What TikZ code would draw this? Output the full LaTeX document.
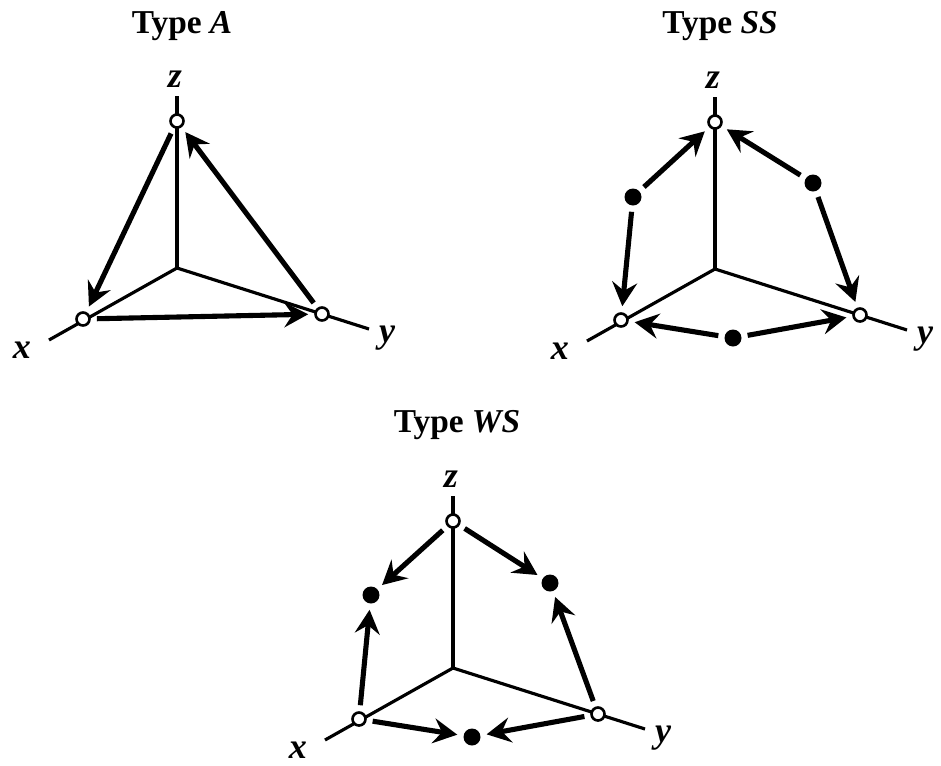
\documentclass[tikz,border=0pt]{standalone}
\usepackage{fontspec}
\setmainfont{Liberation Serif}
\usetikzlibrary{arrows.meta}

\tikzset{
	axis/.style={line width=1.8pt},
	hollow/.style={circle, draw, fill=white, line width=1.5pt, inner sep=0pt, minimum size=0.26cm},
	filled/.style={circle, fill=black, inner sep=0pt, minimum size=0.34cm},
	flow/.style={line width=2.9pt, -{Stealth[length=0.48cm,width=0.5cm,inset=0.17cm]},
		shorten >=0.12cm, shorten <=0.12cm},
	lab/.style={anchor=base, font=\fontsize{20.5}{24}\selectfont\bfseries\itshape},
	ttl/.style={anchor=base, font=\fontsize{19}{22}\selectfont\bfseries}
}

\begin{document}
\begin{tikzpicture}[x=0.02cm, y=-0.02cm]
	\useasboundingbox (0,0) rectangle (941,765);
	
	% axes, the same for all three
	\foreach \p/\ox/\oy in {a/177/268, s/715/269, w/453/668}{
		\begin{scope}[shift={(\ox,\oy)}]
			\coordinate (\p-o) at (0,0);
			\coordinate (\p-xe) at (-128,72);
			\coordinate (\p-ye) at (192,61);
			\coordinate (\p-ze) at (0,-172);
			
			\draw[axis] (\p-xe) -- (\p-o) -- (\p-ye);
			\draw[axis] (\p-o) -- (\p-ze);
			
			\node[hollow] (\p-x) at (-94,51) {};
			\node[hollow] (\p-y) at (145,46) {};
			\node[hollow] (\p-z) at (0,-147) {};
			
			\node[lab] (\p-xl) at (-155,90) {x};
			\node[lab] (\p-yl) at (210,74) {y};
			\node[lab] (\p-zl) at (-2,-181) {z};
		\end{scope}
	}
	
	\node[ttl] (ta) at (182,33) {Type \textit{A}};
	\node[ttl] (ts) at (720,33) {Type \textit{SS}};
	\node[ttl] (tw) at (457,432) {Type \textit{WS}};
	
	% type A
	\draw[flow] (a-z) -- (a-x);
	\draw[flow] (a-y) -- (a-z);
	\draw[flow] (a-x) -- (a-y);
	
	% type SS
	\node[filled] (s-l) at (633,197) {};
	\node[filled] (s-r) at (813,183) {};
	\node[filled] (s-b) at (733,338) {};
	
	\draw[flow] (s-l) -- (s-z);
	\draw[flow] (s-l) -- (s-x);
	\draw[flow] (s-r) -- (s-z);
	\draw[flow] (s-r) -- (s-y);
	\draw[flow] (s-b) -- (s-x);
	\draw[flow] (s-b) -- (s-y);
	
	% type WS
	\node[filled] (w-l) at (371,595) {};
	\node[filled] (w-r) at (550,583) {};
	\node[filled] (w-b) at (472,737) {};
	
	\draw[flow] (w-z) -- (w-l);
	\draw[flow] (w-x) -- (w-l);
	\draw[flow] (w-z) -- (w-r);
	\draw[flow] (w-y) -- (w-r);
	\draw[flow] (w-x) -- (w-b);
	\draw[flow] (w-y) -- (w-b);
\end{tikzpicture}
\end{document}
